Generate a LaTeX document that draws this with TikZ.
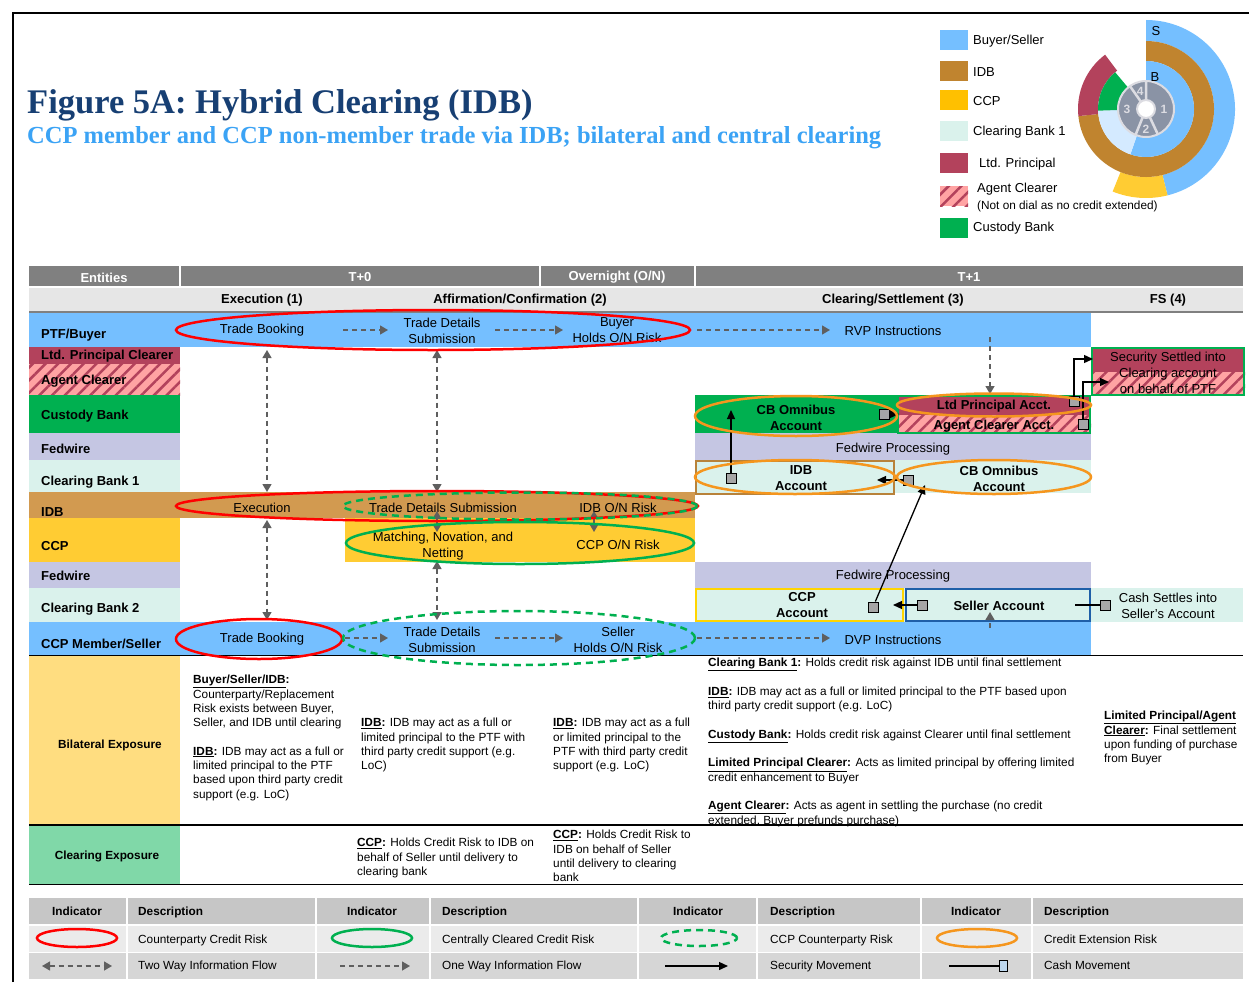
\documentclass[tikz,border=0pt]{standalone}
\usepackage{fontspec}
\setmainfont{Liberation Sans}
\newfontfamily\titlefont{Liberation Serif}
\usetikzlibrary{arrows.meta,patterns.meta}
\definecolor{hdrgray}{HTML}{808080}
\definecolor{subgray}{HTML}{E6E6E6}
\definecolor{buyblue}{HTML}{75BFFF}
\definecolor{maroonc}{HTML}{B3425C}
\definecolor{pinkc}{HTML}{FFA3A3}
\definecolor{custg}{HTML}{00B050}
\definecolor{lavc}{HTML}{C5C6E3}
\definecolor{mintc}{HTML}{DAF2EC}
\definecolor{idbc}{HTML}{D29A50}
\definecolor{ccpc}{HTML}{FFCC33}
\definecolor{bilc}{HTML}{FFDD80}
\definecolor{clrc}{HTML}{80D8A8}
\definecolor{redc}{HTML}{FF0000}
\definecolor{greenc}{HTML}{00B050}
\definecolor{orangec}{HTML}{F5961E}
\definecolor{titleblue}{HTML}{173F73}
\definecolor{subblue}{HTML}{3BA3F5}
\definecolor{arrgray}{HTML}{5F5F5F}
\definecolor{sqgray}{HTML}{A6A6A6}
\definecolor{idbborder}{HTML}{B8823A}
\definecolor{ccpborder}{HTML}{FFD500}
\definecolor{sellborder}{HTML}{1F5FA8}
\definecolor{legidb}{HTML}{C0842F}
\definecolor{legccp}{HTML}{FFC000}
\definecolor{dialccp}{HTML}{FFCC33}
\definecolor{dialcb}{HTML}{D4EAFF}
\definecolor{hubgray}{HTML}{8A93A5}
\definecolor{hubline}{HTML}{DCDCE2}
\definecolor{tblhead}{HTML}{C6C6C6}
\definecolor{tblrowa}{HTML}{EBEBEB}
\definecolor{tblrowb}{HTML}{D6D6D6}
\definecolor{cashblue}{HTML}{BDD7EE}
\newcommand\hdl[1]{\underline{\textbf{#1}}\textbf{:}}
\newcommand\dialsector[5]{\fill[#1] (#2:#4) arc[start angle=#2,end angle=#3,radius=#4] -- (#3:#5) arc[start angle=#3,end angle=#2,radius=#5] -- cycle;}
\begin{document}
\begin{tikzpicture}[x=1pt,y=-1pt,
  lbl/.style={inner sep=0pt,align=center,yshift=-1.5pt,font=\fontsize{13}{16}\selectfont},
  blbl/.style={inner sep=0pt,align=center,yshift=-1.5pt,font=\fontsize{13}{16}\selectfont\bfseries},
  ent/.style={inner sep=0pt,anchor=west,yshift=-1.5pt,font=\fontsize{13}{15}\selectfont\bfseries},
  hdr/.style={inner sep=0pt,text=white,yshift=-1.5pt,font=\fontsize{13}{15}\selectfont\bfseries},
  shdr/.style={inner sep=0pt,yshift=-1.5pt,font=\fontsize{13}{15}\selectfont\bfseries},
  blk/.style={inner sep=0pt,anchor=north west,align=left,yshift=-1pt,font=\fontsize{11.8}{14.3}\selectfont},
  leg/.style={inner sep=0pt,anchor=west,yshift=-1.5pt,font=\fontsize{13}{15}\selectfont},
  tbl/.style={inner sep=0pt,anchor=base west,font=\fontsize{11.8}{14}\selectfont},
  tblh/.style={inner sep=0pt,anchor=base,font=\fontsize{11.8}{14}\selectfont\bfseries},
  twoway/.style={draw=arrgray,line width=1.3pt,dash pattern=on 5pt off 4pt,{Triangle[length=8pt,width=9pt]}-{Triangle[length=8pt,width=9pt]}},
  oneway/.style={draw=arrgray,line width=1.3pt,dash pattern=on 5pt off 4pt,-{Triangle[length=8pt,width=9pt]}},
  secmove/.style={draw=black,line width=1.3pt,-{Triangle[length=9pt,width=8pt]}},
  cashsq/.style={draw=black,fill=sqgray,line width=1pt,minimum size=10pt,inner sep=0pt},
  redring/.style={draw=redc,line width=2.5pt},
  greenring/.style={draw=greenc,line width=2.5pt},
  greendash/.style={draw=greenc,line width=2.5pt,dash pattern=on 7pt off 5pt},
  orangering/.style={draw=orangec,line width=2.5pt},
  hatch/.style={pattern={Lines[angle=45,distance=9pt,line width=2.5pt]},pattern color=maroonc},
]
\useasboundingbox (0,0) rectangle (1249,982);
\fill[white] (0,0) rectangle (1249,982);
% frame
\draw[black,line width=2pt] (13,982) -- (13,13) -- (1249,13);

% title
\node[anchor=base west,inner sep=0pt,text=titleblue,font=\titlefont\bfseries\fontsize{34.5}{40}\selectfont] (title) at (27,113) {Figure 5A: Hybrid Clearing (IDB)};
\node[anchor=base west,inner sep=0pt,text=subblue,font=\titlefont\bfseries\fontsize{24.5}{28}\selectfont] (subtitle) at (27,143) {CCP member and CCP non-member trade via IDB; bilateral and central clearing};

% top-right legend
\fill[buyblue] (940,30) rectangle (968,50);
\fill[legidb] (940,61) rectangle (968,81);
\fill[legccp] (940,90) rectangle (968,110);
\fill[mintc] (940,121) rectangle (968,141);
\fill[maroonc] (940,153) rectangle (968,173);
\fill[pinkc] (940,186) rectangle (968,206);
\fill[hatch] (940,186) rectangle (968,206);
\fill[custg] (940,218) rectangle (968,238);
\node[leg] (lg1) at (973,40) {Buyer/Seller};
\node[leg] (lg2) at (973,71) {IDB};
\node[leg] (lg3) at (973,100) {CCP};
\node[leg] (lg4) at (973,131) {Clearing Bank 1};
\node[leg] (lg5) at (979,163) {Ltd. Principal};
\node[leg] (lg6) at (977,188) {Agent Clearer};
\node[leg,font=\fontsize{11.8}{13}\selectfont] (lg6b) at (977,205) {(Not on dial as no credit extended)};
\node[leg] (lg7) at (973,227) {Custody Bank};

% dial
\begin{scope}[shift={(1146,109)},y=1pt]
\dialsector{buyblue}{-76}{90}{89pt}{68pt}
\dialsector{dialccp}{-112}{-76}{89pt}{68pt}
\dialsector{legidb}{-174}{90}{68pt}{48pt}
\dialsector{maroonc}{127}{186}{68pt}{48pt}
\dialsector{buyblue}{-109}{90}{48pt}{28pt}
\dialsector{dialcb}{182}{251}{48pt}{28pt}
\dialsector{custg}{130}{182}{48pt}{28pt}
\fill[hubgray] (0,0) circle[radius=28pt];
\draw[hubline,line width=2pt] (0,0) circle[radius=28pt];
\draw[hubline,line width=2.5pt] (90:9pt)--(90:28pt) (125:9pt)--(125:28pt) (-65:9pt)--(-65:28pt) (-112:9pt)--(-112:28pt);
\fill[white] (0,0) circle[radius=9pt];
\draw[hubline,line width=2pt] (0,0) circle[radius=9pt];
\node[inner sep=0pt,text=hubline,font=\fontsize{12}{14}\selectfont\bfseries] (d1) at (0:18pt) {1};
\node[inner sep=0pt,text=hubline,font=\fontsize{12}{14}\selectfont\bfseries] (d2) at (-90:20pt) {2};
\node[inner sep=0pt,text=hubline,font=\fontsize{12}{14}\selectfont\bfseries] (d3) at (180:19pt) {3};
\node[inner sep=0pt,text=hubline,font=\fontsize{12}{14}\selectfont\bfseries] (d4) at (108:19pt) {4};
\end{scope}
\node[inner sep=0pt,font=\fontsize{13}{15}\selectfont] (dS) at (1156,31) {S};
\node[inner sep=0pt,font=\fontsize{13}{15}\selectfont] (dB) at (1155,77) {B};

% header rows
\fill[hdrgray] (29,266) rectangle (1243,286);
\draw[white,line width=1.5pt] (180,266)--(180,286) (540,266)--(540,286) (695,266)--(695,286);
\fill[subgray] (29,288) rectangle (1243,311);
\draw[hdrgray,line width=2pt] (29,312)--(1243,312);
\node[hdr] (hEnt) at (104,276) {Entities};
\node[hdr] (hT0) at (360,276) {T+0};
\node[hdr] (hON) at (617,276) {Overnight (O/N)};
\node[hdr] (hT1) at (969,276) {T+1};
\node[shdr] (hExe) at (262,299) {Execution (1)};
\node[shdr] (hAff) at (520,299) {Affirmation/Confirmation (2)};
\node[shdr] (hClr) at (893,299) {Clearing/Settlement (3)};
\node[shdr] (hFS) at (1168,299) {FS (4)};

% lanes
\fill[buyblue] (29,313) rectangle (1091,347);
\fill[maroonc] (29,347) rectangle (180,364);
\fill[pinkc] (29,364) rectangle (180,395);
\fill[hatch] (29,364) rectangle (180,395);
\fill[custg] (29,395) rectangle (180,433);
\fill[custg] (695,395) rectangle (897,433);
\fill[lavc] (29,433) rectangle (180,460);
\fill[lavc] (695,433) rectangle (1091,460);
\fill[mintc] (29,460) rectangle (180,492);
\fill[mintc] (695,460) rectangle (1091,493);
\fill[idbc] (29,492) rectangle (695,518);
\fill[ccpc] (29,518) rectangle (180,562);
\fill[ccpc] (345,518) rectangle (695,562);
\fill[lavc] (29,562) rectangle (180,588);
\fill[lavc] (695,562) rectangle (1091,588);
\fill[mintc] (29,588) rectangle (180,622);
\fill[mintc] (695,588) rectangle (1243,622);
\fill[buyblue] (29,622) rectangle (1091,655);

% Ltd principal / agent clearer account box
\fill[maroonc] (897,395) rectangle (1091,415);
\fill[pinkc] (897,415) rectangle (1091,433);
\fill[hatch] (897,415) rectangle (1091,433);
\draw[custg,line width=2pt] (898,396) rectangle (1090,433);
% security settled box
\fill[maroonc] (1091,347) rectangle (1245,372);
\fill[pinkc] (1091,372) rectangle (1245,395);
\fill[hatch] (1091,372) rectangle (1245,395);
\draw[custg,line width=2.5pt] (1092,348) rectangle (1244,395);
% account boxes
\draw[idbborder,line width=2.5pt] (696,461) rectangle (894,494);
\draw[ccpborder,line width=2.5pt] (696,589) rectangle (903,621);
\draw[sellborder,line width=2.5pt] (906,589) rectangle (1090,621);

% lower section
\fill[bilc] (29,656) rectangle (180,825);
\fill[clrc] (29,826) rectangle (180,884);
\draw[black,line width=1.5pt] (29,655.5)--(1243,655.5);
\draw[black,line width=1.5pt] (29,825)--(1243,825);
\draw[black,line width=1.5pt] (29,884.5)--(1243,884.5);

% entity labels
\node[ent] (ePTF) at (41,334) {PTF/Buyer};
\node[ent] (eLPC) at (41,355) {Ltd. Principal Clearer};
\node[ent] (eAC) at (41,380) {Agent Clearer};
\node[ent] (eCust) at (41,415) {Custody Bank};
\node[ent] (eFed1) at (41,447) {Fedwire};
\node[ent] (eCB1) at (41,481) {Clearing Bank 1};
\node[ent] (eIDB) at (41,511) {IDB};
\node[ent] (eCCP) at (41,545) {CCP};
\node[ent] (eFed2) at (41,574) {Fedwire};
\node[ent] (eCB2) at (41,608) {Clearing Bank 2};
\node[ent] (eSel) at (41,642) {CCP Member/Seller};

% lane texts
\node[lbl] (tb1) at (262,329) {Trade Booking};
\node[lbl] (tds1) at (442,329) {Trade Details\\Submission};
\node[lbl] (bho) at (617,329) {Buyer\\Holds O/N Risk};
\node[lbl] (rvp) at (893,329) {RVP Instructions};
\node[lbl] (exe) at (262,506) {Execution};
\node[lbl] (tds2) at (443,506) {Trade Details Submission};
\node[lbl] (idbon) at (618,506) {IDB O/N Risk};
\node[lbl] (mnn) at (443,545) {Matching, Novation, and\\Netting};
\node[lbl] (ccpon) at (618,543) {CCP O/N Risk};
\node[lbl] (tb2) at (262,638) {Trade Booking};
\node[lbl] (tds3) at (442,638) {Trade Details\\Submission};
\node[lbl] (sho) at (618,638) {Seller\\Holds O/N Risk};
\node[lbl] (dvp) at (893,638) {DVP Instructions};
\node[blbl] (cbo1) at (796,416) {CB Omnibus\\Account};
\node[blbl] (lpa) at (994,405) {Ltd Principal Acct.};
\node[blbl] (aca) at (994,425) {Agent Clearer Acct.};
\node[lbl] (fp1) at (893,448) {Fedwire Processing};
\node[blbl] (idba) at (801,477) {IDB\\Account};
\node[blbl] (cbo2) at (999,477) {CB Omnibus\\Account};
\node[lbl] (fp2) at (893,575) {Fedwire Processing};
\node[blbl] (ccpa) at (802,604) {CCP\\Account};
\node[blbl] (sela) at (999,604) {Seller Account};
\node[lbl] (cash) at (1168,604) {Cash Settles into\\Seller's Account};
\node[lbl] (sec) at (1168,371) {Security Settled into\\Clearing account\\on behalf of PTF};

% information flows
\coordinate (p1s) at (343,330); \coordinate (p1e) at (388,330);
\coordinate (p2s) at (495,330); \coordinate (p2e) at (563,330);
\coordinate (p3s) at (697,330); \coordinate (p3e) at (830,330);
\coordinate (s1s) at (345,638); \coordinate (s1e) at (388,638);
\coordinate (s2s) at (495,638); \coordinate (s2e) at (563,638);
\coordinate (s3s) at (697,638); \coordinate (s3e) at (830,638);
\draw[oneway] (p1s) -- (p1e);
\draw[oneway] (p2s) -- (p2e);
\draw[oneway] (p3s) -- (p3e);
\draw[oneway] (s1s) -- (s1e);
\draw[oneway] (s2s) -- (s2e);
\draw[oneway] (s3s) -- (s3e);
\coordinate (v1a) at (267,350); \coordinate (v1b) at (267,492);
\coordinate (v2a) at (437,350); \coordinate (v2b) at (437,492);
\coordinate (v3a) at (267,520); \coordinate (v3b) at (267,620);
\coordinate (v4a) at (437,561); \coordinate (v4b) at (437,620);
\coordinate (v5a) at (437,511); \coordinate (v5b) at (437,532);
\coordinate (v6a) at (594,511); \coordinate (v6b) at (594,532);
\draw[twoway] (v1a) -- (v1b);
\draw[twoway] (v2a) -- (v2b);
\draw[twoway] (v3a) -- (v3b);
\draw[twoway] (v4a) -- (v4b);
\draw[twoway] (v5a) -- (v5b);
\draw[twoway] (v6a) -- (v6b);
\coordinate (rv1) at (990,337); \coordinate (rv2) at (990,394);
\coordinate (dv1) at (990,628); \coordinate (dv2) at (990,612);
\draw[oneway] (rv1) -- (rv2);
\draw[oneway] (dv1) -- (dv2);

% security and cash movements
\node[cashsq] (q1) at (731,478) {};
\node[cashsq] (q2) at (884,414) {};
\node[cashsq] (q3) at (1074,401) {};
\node[cashsq] (q4) at (1083,424) {};
\node[cashsq] (q5) at (908,480) {};
\node[cashsq] (q6) at (873,607) {};
\node[cashsq] (q7) at (922,605) {};
\node[cashsq] (q8) at (1105,605) {};
\coordinate (m1) at (731,410);
\coordinate (m2) at (899,414);
\coordinate (m3) at (1093,359);
\coordinate (m4) at (1109,382);
\coordinate (m5) at (877,480);
\coordinate (m6) at (925,485);
\coordinate (m7) at (893,605);
\coordinate (m8) at (1075,605);
\draw[secmove] (q1.north) -- (m1);
\draw[secmove] (q2.east) -- (m2);
\draw[secmove] (q3.north) |- (m3);
\draw[secmove] (q4.north) |- (m4);
\draw[secmove] (q5.west) -- (m5);
\draw[secmove] (q6) -- (m6);
\draw[secmove] (q7.west) -- (m7);
\draw[black,line width=1.3pt] (m8) -- (q8.west);

% risk rings
\draw[redring] (433,330) ellipse[x radius=257pt,y radius=20pt];
\draw[redring] (437,506) ellipse[x radius=261pt,y radius=15pt];
\draw[greendash] (520,506) ellipse[x radius=177pt,y radius=13.5pt];
\draw[greenring] (520,543) ellipse[x radius=174pt,y radius=21pt];
\draw[redring] (259,639) ellipse[x radius=83pt,y radius=20pt];
\draw[greendash] (519,638) ellipse[x radius=176pt,y radius=27pt];
\draw[orangering] (796,416) ellipse[x radius=101pt,y radius=20pt];
\draw[orangering] (994,405) ellipse[x radius=97pt,y radius=11.5pt];
\draw[orangering] (795,477) ellipse[x radius=100pt,y radius=17pt];
\draw[orangering] (994,477) ellipse[x radius=97pt,y radius=17pt];

% exposure texts
\node[inner sep=0pt,font=\fontsize{11.8}{14}\selectfont\bfseries] (bil) at (110,745) {Bilateral Exposure};
\node[inner sep=0pt,font=\fontsize{11.8}{14}\selectfont\bfseries] (clr) at (107,856) {Clearing Exposure};
\node[blk] (bA) at (193,674) {\hdl{Buyer/Seller/IDB}\\Counterparty/Replacement\\Risk exists between Buyer,\\Seller, and IDB until clearing\\[14.3pt]\hdl{IDB} IDB may act as a full or\\limited principal to the PTF\\based upon third party credit\\support (e.g. LoC)};
\node[blk] (bB) at (361,717) {\hdl{IDB} IDB may act as a full or\\limited principal to the PTF with\\third party credit support (e.g.\\LoC)};
\node[blk] (bC) at (553,717) {\hdl{IDB} IDB may act as a full\\or limited principal to the\\PTF with third party credit\\support (e.g. LoC)};
\node[blk] (bD) at (708,657) {\hdl{Clearing Bank 1} Holds credit risk against IDB until final settlement\\[14.3pt]\hdl{IDB} IDB may act as a full or limited principal to the PTF based upon\\third party credit support (e.g. LoC)\\[14.3pt]\hdl{Custody Bank} Holds credit risk against Clearer until final settlement\\[14.3pt]\hdl{Limited Principal Clearer} Acts as limited principal by offering limited\\credit enhancement to Buyer\\[14.3pt]\hdl{Agent Clearer} Acts as agent in settling the purchase (no credit\\extended, Buyer prefunds purchase)};
\node[blk] (bE) at (1104,710) {\underline{\textbf{Limited Principal/Agent}}\\\hdl{Clearer} Final settlement\\upon funding of purchase\\from Buyer};
\node[blk] (bF) at (357,837) {\hdl{CCP} Holds Credit Risk to IDB on\\behalf of Seller until delivery to\\clearing bank};
\node[blk] (bG) at (553,829) {\hdl{CCP} Holds Credit Risk to\\IDB on behalf of Seller\\until delivery to clearing\\bank};

% bottom legend table
\fill[tblhead] (29,898) rectangle (1243,924);
\fill[tblrowa] (29,926) rectangle (1243,952);
\fill[tblrowb] (29,953) rectangle (1243,979);
\foreach \xx in {127,316,430,638,757,921,1032} {\draw[white,line width=2pt] (\xx,898) -- (\xx,979);}
\node[tblh] (ti1) at (77,915) {Indicator};
\node[tblh] (ti2) at (372,915) {Indicator};
\node[tblh] (ti3) at (698,915) {Indicator};
\node[tblh] (ti4) at (976,915) {Indicator};
\node[tblh,anchor=base west] (td1) at (138,915) {Description};
\node[tblh,anchor=base west] (td2) at (442,915) {Description};
\node[tblh,anchor=base west] (td3) at (770,915) {Description};
\node[tblh,anchor=base west] (td4) at (1044,915) {Description};
\node[tbl] (tr1) at (138,943) {Counterparty Credit Risk};
\node[tbl] (tr2) at (442,943) {Centrally Cleared Credit Risk};
\node[tbl] (tr3) at (770,943) {CCP Counterparty Risk};
\node[tbl] (tr4) at (1044,943) {Credit Extension Risk};
\node[tbl] (tr5) at (138,969) {Two Way Information Flow};
\node[tbl] (tr6) at (442,969) {One Way Information Flow};
\node[tbl] (tr7) at (770,969) {Security Movement};
\node[tbl] (tr8) at (1044,969) {Cash Movement};
\draw[redring] (77,938) ellipse[x radius=40pt,y radius=9pt];
\draw[greenring] (372,938) ellipse[x radius=40pt,y radius=9pt];
\draw[greendash] (699,938) ellipse[x radius=38pt,y radius=8pt];
\draw[orangering] (977,938) ellipse[x radius=40pt,y radius=9pt];
\coordinate (la1) at (42,966); \coordinate (la2) at (112,966);
\coordinate (lb1) at (340,966); \coordinate (lb2) at (410,966);
\coordinate (lc1) at (665,966); \coordinate (lc2) at (728,966);
\coordinate (ld1) at (949,966);
\draw[twoway] (la1) -- (la2);
\draw[oneway] (lb1) -- (lb2);
\draw[secmove] (lc1) -- (lc2);
\node[cashsq,fill=cashblue,minimum width=8pt,minimum height=11pt] (lq) at (1003,966) {};
\draw[black,line width=1.3pt] (ld1) -- (lq.west);
\end{tikzpicture}
\end{document}
